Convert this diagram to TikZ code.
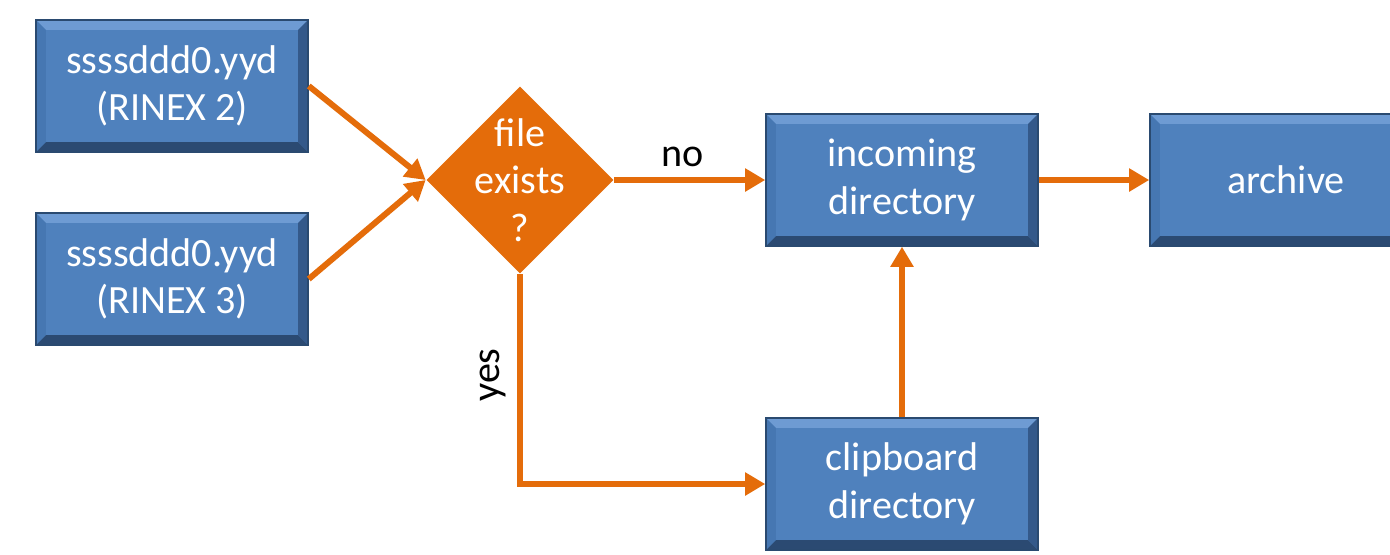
\documentclass[tikz,border=0pt]{standalone}
\usepackage{fontspec}
\setmainfont{Carlito}
\usetikzlibrary{arrows.meta,shapes.geometric}

\definecolor{boxblue}{HTML}{4F81BD}
\definecolor{boxline}{HTML}{2A4A70}
\definecolor{bevtop}{HTML}{6E9BD3}
\definecolor{bevleft}{HTML}{4677B2}
\definecolor{bevright}{HTML}{34598A}
\definecolor{bevbot}{HTML}{2B4A72}
\definecolor{flowor}{HTML}{E46C0A}

\newcommand{\lbl}{\fontsize{11.4}{13.5}\selectfont}
\newcommand{\bev}{0.1cm}

\tikzset{
  blk/.style={draw=boxline, fill=boxblue, text=white, align=center, font=\lbl,
    minimum width=2.72cm, minimum height=1.32cm, inner sep=0pt,
    path picture={
      \def\pb{path picture bounding box}
      \fill[bevtop] (\pb.north west) -- (\pb.north east)
        -- ([shift={(-\bev,-\bev)}]\pb.north east) -- ([shift={(\bev,-\bev)}]\pb.north west) -- cycle;
      \fill[bevbot] (\pb.south west) -- (\pb.south east)
        -- ([shift={(-\bev,\bev)}]\pb.south east) -- ([shift={(\bev,\bev)}]\pb.south west) -- cycle;
      \fill[bevleft] (\pb.north west) -- ([shift={(\bev,-\bev)}]\pb.north west)
        -- ([shift={(\bev,\bev)}]\pb.south west) -- (\pb.south west) -- cycle;
      \fill[bevright] (\pb.north east) -- ([shift={(-\bev,-\bev)}]\pb.north east)
        -- ([shift={(-\bev,\bev)}]\pb.south east) -- (\pb.south east) -- cycle;
    }},
  % negative sep keeps the diamond tight round its three lines
  test/.style={diamond, fill=flowor, text=white, align=center, font=\lbl,
    inner sep=-0.065cm, aspect=1},
  flow/.style={draw=flowor, line width=1.7pt,
    -{Triangle[length=0.2cm,width=0.22cm]}},
  lab/.style={font=\lbl, text=black}
}

\begin{document}
\begin{tikzpicture}[x=0.01cm,y=-0.01cm]
\clip (0,0) rectangle (1390,554);
\fill[white] (0,0) rectangle (1390,554);

% observation files
\node[blk] (rnx2) at (172,86) {ssssddd0.yyd\\(RINEX 2)};
\node[blk] (rnx3) at (172,279) {ssssddd0.yyd\\(RINEX 3)};

% decision and directories
\node[test] (chk) at (520,180) {file\\exists\\?};
\node[blk] (inc) at (902,180) {incoming\\directory};
\node[blk] (clp) at (902,484) {clipboard\\directory};
\node[blk] (arc) at (1286,180) {archive};

\draw[flow] (rnx2.east) -- (chk.west);
\draw[flow] (rnx3.east) -- (chk.west);
\draw[flow] (chk.east) -- (inc.west);
\draw[flow] (inc.east) -- (arc.west);
\draw[flow] (chk.south) |- (clp.west);
\draw[flow] (clp.north) -- (inc.south);

\node[lab] (no) at (683,157) {no};
\node[lab,rotate=90] (yes) at (493,375) {yes};
\end{tikzpicture}
\end{document}
